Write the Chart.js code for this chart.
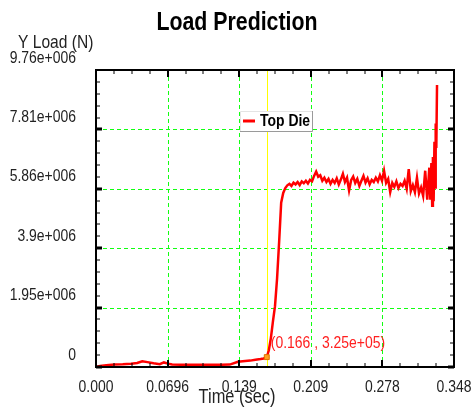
<!DOCTYPE html>
<html>
<head>
<meta charset="utf-8">
<script src="https://cdn.jsdelivr.net/npm/chart.js@4.4.1/dist/chart.umd.min.js"></script>
<style>
  html, body { margin: 0; padding: 0; background: #fff; }
  #wrap { width: 472px; height: 410px; }
</style>
</head>
<body>
<div id="wrap"><canvas id="loadChart" width="472" height="410"></canvas></div>
<script>
// Time (sec) and load (N) for the "Top Die" curve
const timeSec = [
  0, 0.004, 0.010, 0.018, 0.026, 0.034, 0.040, 0.045, 0.050, 0.056, 0.062, 0.066, 0.070, 0.074,
  0.082, 0.095, 0.110, 0.122, 0.130, 0.138, 0.145, 0.150, 0.155, 0.160, 0.163, 0.166,
  0.168, 0.170, 0.172, 0.174, 0.176, 0.178, 0.180, 0.182,
  0.184, 0.186, 0.188, 0.190, 0.192, 0.194, 0.196, 0.198, 0.200, 0.202, 0.204, 0.206,
  0.208, 0.210, 0.212, 0.214, 0.216, 0.218, 0.220, 0.222, 0.224, 0.226, 0.228, 0.230,
  0.232, 0.234, 0.236, 0.238, 0.240, 0.242, 0.244, 0.246, 0.248, 0.250, 0.252, 0.254,
  0.256, 0.258, 0.260, 0.262, 0.264, 0.266, 0.268, 0.270, 0.272, 0.274, 0.276, 0.278,
  0.280, 0.282, 0.284, 0.286, 0.288, 0.290, 0.292, 0.294, 0.296, 0.298, 0.300, 0.302,
  0.304, 0.306, 0.308, 0.310, 0.312, 0.314,
  0.316, 0.318, 0.320, 0.322, 0.3240, 0.3250, 0.3260, 0.3268, 0.3275, 0.3282, 0.3290, 0.3296, 0.3302, 0.3308, 0.3315
];
const loadN = [
  0, 0.03e6, 0.06e6, 0.08e6, 0.09e6, 0.11e6, 0.13e6, 0.19e6, 0.16e6, 0.12e6, 0.09e6, 0.15e6, 0.11e6, 0.08e6,
  0.07e6, 0.07e6, 0.07e6, 0.07e6, 0.08e6, 0.17e6, 0.20e6, 0.21e6, 0.24e6, 0.26e6, 0.28e6, 0.325e6,
  0.55e6, 0.95e6, 1.5e6, 2.0e6, 2.9e6, 4.1e6, 5.4e6, 5.72e6,
  5.88e6, 5.97e6, 6.02e6, 5.95e6, 6.06e6, 6.00e6, 6.08e6, 5.98e6, 6.10e6, 6.04e6, 6.12e6, 6.03e6,
  6.15e6, 6.10e6, 6.28e6, 6.42e6, 6.25e6, 6.30e6, 6.12e6, 6.22e6, 6.08e6, 6.18e6, 6.02e6, 6.15e6,
  6.05e6, 6.20e6, 6.00e6, 6.16e6, 6.35e6, 6.08e6, 6.22e6, 5.80e6, 6.14e6, 6.26e6, 6.05e6, 6.18e6,
  5.95e6, 6.12e6, 6.28e6, 6.06e6, 6.20e6, 6.00e6, 6.15e6, 6.08e6, 6.22e6, 6.10e6, 6.30e6, 6.12e6,
  6.45e6, 6.05e6, 6.18e6, 5.75e6, 6.05e6, 5.92e6, 6.10e6, 5.88e6, 6.02e6, 5.95e6, 6.12e6, 5.86e6,
  6.50e6, 5.78e6, 5.98e6, 5.75e6, 6.22e6, 5.70e6,
  5.90e6, 5.62e6, 6.45e6, 5.50e6, 6.55e6, 5.5e6, 6.7e6, 5.3e6, 6.9e6, 5.45e6, 7.4e6, 5.9e6, 8.0e6, 7.2e6, 9.27e6
];

// Probed point shown on the plot
const markerTime = [0.166];
const markerLoad = [3.25e5];
const markerText = '(0.166 , 3.25e+05)';

// Axis ticks
const xTickValues = [0, 0.0696, 0.1392, 0.2088, 0.2784, 0.348];
const xTickLabels = ['0.000', '0.0696', '0.139', '0.209', '0.278', '0.348'];
const yTickValues = [0, 1.952e6, 3.904e6, 5.856e6, 7.808e6, 9.76e6];
const yTickLabels = ['0', '1.95e+006', '3.9e+006', '5.86e+006', '7.81e+006', '9.76e+006'];

const FONT = '"Liberation Sans", Arial, sans-serif';
const NARROW = 0.82;

const linePoints = timeSec.map((t, i) => ({ x: t, y: loadN[i] }));
const markerPoints = markerTime.map((t, i) => ({ x: t, y: markerLoad[i] }));

// condensed text, like the original plotting program's narrow font
function narrowText(ctx, text, x, y, align, font, color) {
  ctx.save();
  ctx.font = font;
  ctx.fillStyle = color;
  ctx.textBaseline = 'middle';
  ctx.textAlign = 'left';
  const w = ctx.measureText(text).width * NARROW;
  let left = x;
  if (align === 'center') left = x - w / 2;
  if (align === 'right') left = x - w;
  ctx.translate(left, y);
  ctx.scale(NARROW, 1);
  ctx.fillText(text, 0, 0);
  ctx.restore();
}

const decorPlugin = {
  id: 'decor',
  beforeDatasetsDraw(chart) {
    const { ctx, chartArea: a, scales: { x, y } } = chart;
    ctx.save();
    // dashed green grid from the scale ticks
    ctx.strokeStyle = '#11ff11';
    ctx.lineWidth = 1;
    ctx.setLineDash([4, 3]);
    ctx.beginPath();
    x.ticks.forEach(t => {
      const px = Math.round(x.getPixelForValue(t.value)) + 0.5;
      ctx.moveTo(px, a.top); ctx.lineTo(px, a.bottom);
    });
    y.ticks.forEach(t => {
      const py = Math.round(y.getPixelForValue(t.value)) + 0.5;
      ctx.moveTo(a.left, py); ctx.lineTo(a.right, py);
    });
    ctx.stroke();
    ctx.setLineDash([]);

    // yellow cursor line at the probed time
    const cx = Math.round(x.getPixelForValue(markerTime[0])) + 0.5;
    ctx.strokeStyle = '#ffff00';
    ctx.beginPath();
    ctx.moveTo(cx, a.top);
    ctx.lineTo(cx, a.bottom);
    ctx.stroke();
    ctx.restore();
  },
  afterDraw(chart) {
    const { ctx, chartArea: a, scales: { x, y } } = chart;
    ctx.save();

    // frame
    ctx.strokeStyle = '#000';
    ctx.lineWidth = 2;
    ctx.strokeRect(a.left, a.top, a.right - a.left, a.bottom - a.top);

    // inward ticks, majors and minors
    const xStep = xTickValues[1] - xTickValues[0];
    const yStep = yTickValues[1] - yTickValues[0];
    for (let i = 0; i < xTickValues.length - 1; i++) {
      for (let k = 0; k <= 4; k++) {
        const px = Math.round(x.getPixelForValue(xTickValues[i] + xStep * k / 4));
        const major = k === 0;
        ctx.lineWidth = major ? 2 : 1;
        const len = major ? 7 : 4;
        ctx.beginPath();
        ctx.moveTo(px, a.bottom); ctx.lineTo(px, a.bottom - len);
        ctx.moveTo(px, a.top); ctx.lineTo(px, a.top + len);
        ctx.stroke();
      }
    }
    for (let i = 0; i < yTickValues.length - 1; i++) {
      for (let k = 0; k <= 5; k++) {
        const py = Math.round(y.getPixelForValue(yTickValues[i] + yStep * k / 5));
        const major = k === 0;
        ctx.lineWidth = major ? 3 : 1;
        const len = major ? 6 : 4;
        ctx.beginPath();
        ctx.moveTo(a.left, py); ctx.lineTo(a.left + len, py);
        ctx.moveTo(a.right, py); ctx.lineTo(a.right - len, py);
        ctx.stroke();
      }
    }
    ctx.restore();

    // tick labels from the scales
    x.ticks.forEach((t, i) => {
      narrowText(ctx, xTickLabels[i], x.getPixelForValue(t.value), a.bottom + 20, 'center', '17px ' + FONT, '#222');
    });
    y.ticks.forEach((t, i) => {
      narrowText(ctx, yTickLabels[i], a.left - 20, y.getPixelForValue(t.value) - 12, 'right', '17px ' + FONT, '#222');
    });

    // titles
    narrowText(ctx, 'Load Prediction', 237, 23, 'center', 'bold 26px ' + FONT, '#000');
    narrowText(ctx, 'Y Load (N)', 18, 43, 'left', '19px ' + FONT, '#222');
    narrowText(ctx, 'Time (sec)', 237, 397, 'center', '20px ' + FONT, '#222');

    // legend box
    ctx.save();
    const lx = 240, ly = 111, lw = 73, lh = 21;
    ctx.fillStyle = '#fff';
    ctx.fillRect(lx, ly, lw, lh);
    ctx.lineWidth = 1;
    ctx.strokeStyle = '#e4e4e4';
    ctx.beginPath();
    ctx.moveTo(lx + 0.5, ly + lh); ctx.lineTo(lx + 0.5, ly + 0.5); ctx.lineTo(lx + lw, ly + 0.5);
    ctx.stroke();
    ctx.strokeStyle = '#9a9a9a';
    ctx.beginPath();
    ctx.moveTo(lx + lw - 0.5, ly); ctx.lineTo(lx + lw - 0.5, ly + lh - 0.5); ctx.lineTo(lx, ly + lh - 0.5);
    ctx.stroke();
    ctx.strokeStyle = '#ff0000';
    ctx.lineWidth = 3;
    ctx.beginPath();
    ctx.moveTo(lx + 3, ly + 10); ctx.lineTo(lx + 15, ly + 10);
    ctx.stroke();
    ctx.restore();
    narrowText(ctx, 'Top Die', lx + 20, ly + 10, 'left', 'bold 17px ' + FONT, '#000');

    // probe label
    const mx = x.getPixelForValue(markerTime[0]);
    const my = y.getPixelForValue(markerLoad[0]);
    narrowText(ctx, markerText, mx + 4, my - 14, 'left', '17px ' + FONT, '#ff2020');
  }
};

new Chart(document.getElementById('loadChart'), {
  type: 'line',
  data: {
    datasets: [
      {
        label: 'Top Die',
        data: linePoints,
        borderColor: '#ff0000',
        borderWidth: 2.5,
        pointRadius: 0,
        tension: 0,
        order: 2
      },
      {
        label: 'probe',
        data: markerPoints,
        showLine: false,
        pointStyle: 'rect',
        pointRadius: 3.5,
        backgroundColor: '#ffa020',
        borderColor: '#e07000',
        borderWidth: 1,
        order: 1
      }
    ]
  },
  options: {
    responsive: false,
    animation: false,
    layout: { padding: { top: 70, right: 18, left: 0, bottom: 0 } },
    plugins: {
      legend: { display: false },
      title: { display: false },
      tooltip: { enabled: false }
    },
    scales: {
      x: {
        type: 'linear',
        min: 0,
        max: 0.348,
        afterBuildTicks: s => { s.ticks = xTickValues.map(v => ({ value: v })); },
        afterFit: s => { s.height = 43; s.paddingLeft = 0; s.paddingRight = 0; },
        grid: { display: false },
        border: { display: false },
        ticks: { display: false }
      },
      y: {
        type: 'linear',
        min: 0,
        max: 9.76e6,
        afterBuildTicks: s => { s.ticks = yTickValues.map(v => ({ value: v })); },
        afterFit: s => { s.width = 96; s.paddingTop = 0; s.paddingBottom = 0; },
        grid: { display: false },
        border: { display: false },
        ticks: { display: false }
      }
    }
  },
  plugins: [decorPlugin]
});
</script>
</body>
</html>
